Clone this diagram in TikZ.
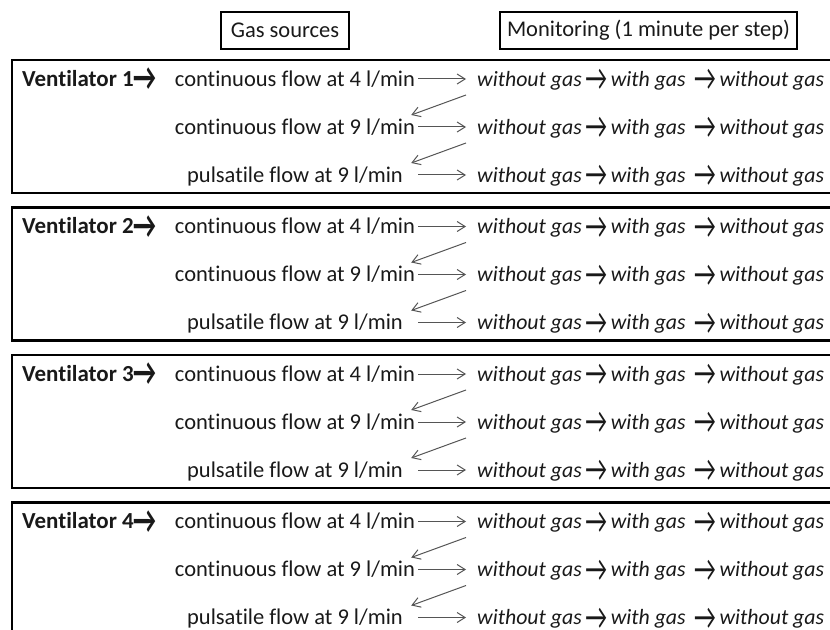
\documentclass[tikz,border=0pt]{standalone}
\usepackage{fontspec}
\setmainfont{Carlito}[RawFeature=-liga]
\usetikzlibrary{arrows.meta}
\definecolor{ventink}{RGB}{25,25,25}
\definecolor{ventarr}{RGB}{85,85,85}
\newcommand{\ventfont}{\fontsize{19.2}{22}\selectfont}
\newcommand{\chev}{\raisebox{-0.2em}[0pt][0pt]{\scalebox{1.1}[1.7]{\upshape→}}}
\tikzset{
  vpanel/.style={draw=black, line width=0.75mm},
  hdrbox/.style={draw=black, line width=0.65mm, minimum height=11.1mm, inner sep=0pt, text=ventink},
  vtext/.style={inner sep=0pt, text height=12.3pt, text depth=0pt, text=ventink},
  vname/.style={vtext, anchor=west, font=\fontsize{19.6}{22}\selectfont\bfseries},
  flowsrc/.style={vtext, minimum width=73.8mm},
  monstep/.style={vtext, anchor=west, font=\fontsize{18.6}{22}\selectfont\itshape},
  steparr/.style={draw=ventarr, line width=0.3mm, -{Straight Barb[length=2.4mm, width=3mm]}}
}

\begin{document}
\begin{tikzpicture}[x=0.3mm, y=-0.3mm, font=\ventfont]
    \clip (0,0) rectangle (830,630);
    % column headers
    \node[hdrbox, minimum width=38.4mm] (gashdr) at (285,30.5) {Gas sources};
    \node[hdrbox, minimum width=89.1mm] (monhdr) at (648.5,30.5) {Monitoring (1 minute per step)};
    % one panel per ventilator
    \foreach \i in {1,...,4} {
      \pgfmathsetmacro{\ptop}{60+(\i-1)*147.5}
      \draw[vpanel] (12,\ptop) rectangle (845,{\ptop+133});
      \node[vname] (vent\i) at (22,{\ptop+19}) {Ventilator \i\chev};
      \foreach \lbl [count=\j] in {continuous flow at 4 l/min, continuous flow at 9 l/min, pulsatile flow at 9 l/min} {
        \pgfmathsetmacro{\rowy}{\ptop+19+(\j-1)*48}
        \node[flowsrc] (src\i-\j) at (295,\rowy) {\lbl};
        \node[monstep] (mon\i-\j) at (477,\rowy) {without gas\,\chev\,with gas\ \,\chev\,without gas};
        \draw[steparr, shorten >=3.3mm] (src\i-\j.east) -- (mon\i-\j.west);
      }
      % back to the next source
      \foreach \j/\k in {1/2, 2/3}
        \draw[steparr] ([shift={(-11,16)}]mon\i-\j.west) -- ([shift={(-7,-12)}]src\i-\k.east);
    }
  \end{tikzpicture}
\end{document}
